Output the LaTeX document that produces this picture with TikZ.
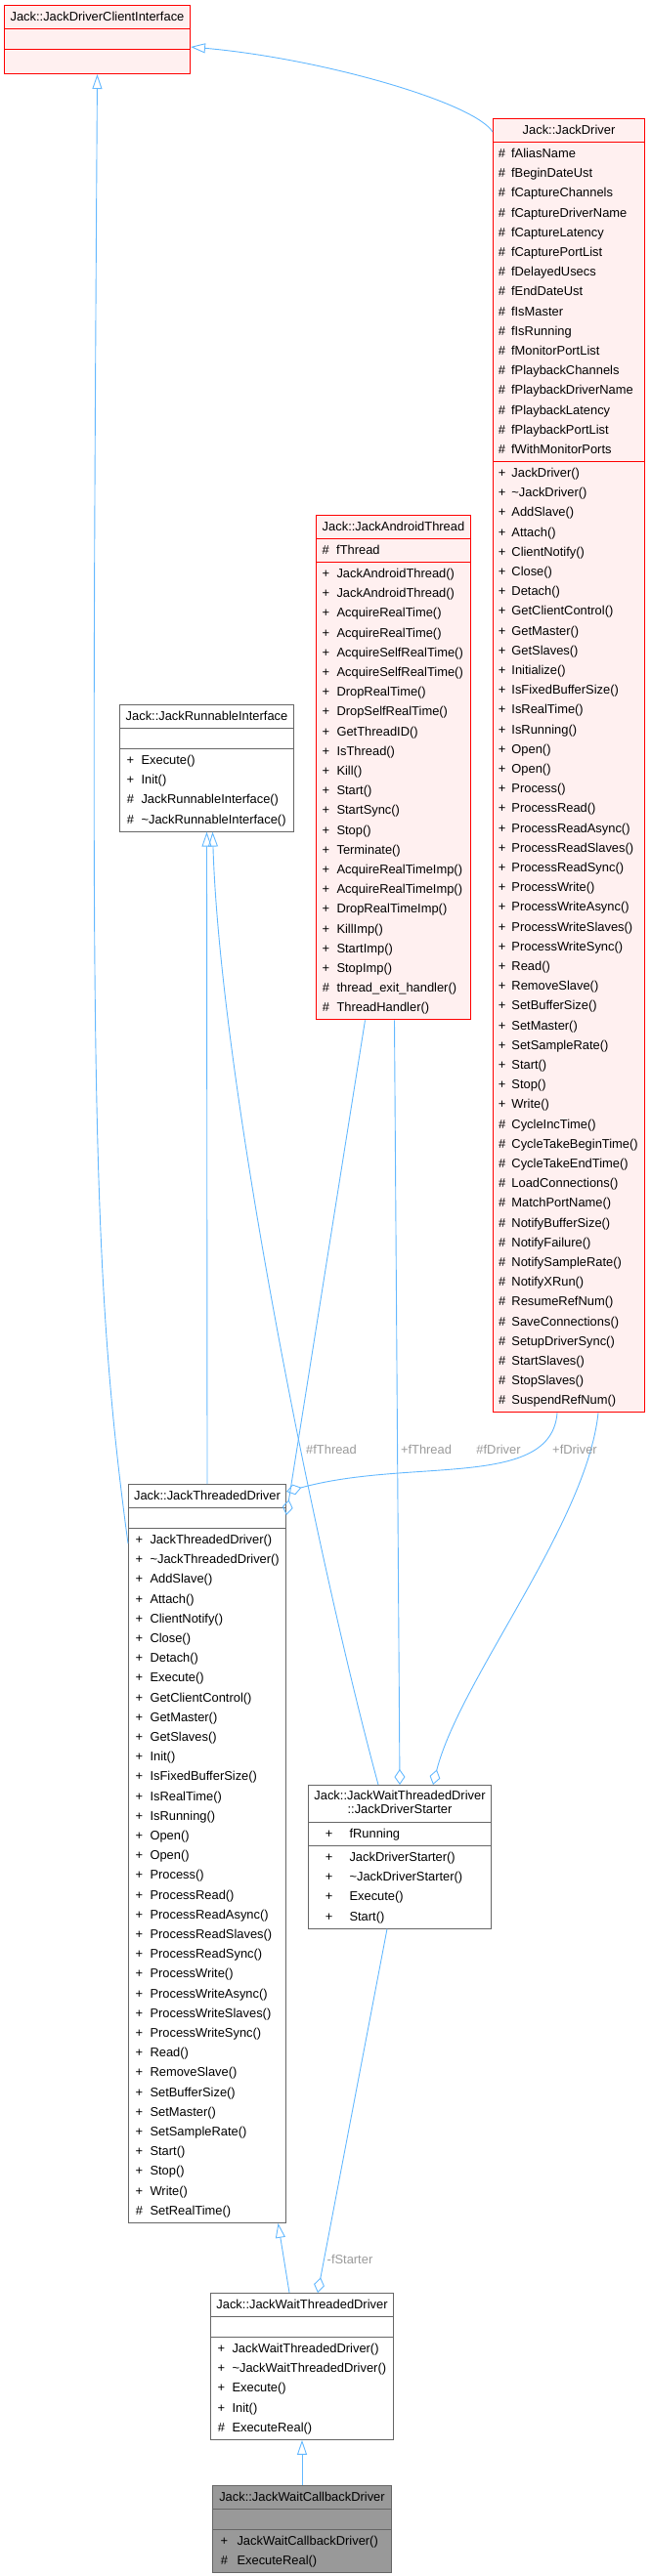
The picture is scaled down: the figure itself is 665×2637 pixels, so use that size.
\documentclass[tikz,border=0pt]{standalone}
\usepackage{fontspec}
\setmainfont{Liberation Sans}
\usetikzlibrary{shapes.multipart,arrows.meta}

\definecolor{edgeblue}{HTML}{63B8FF}
\definecolor{boxred}{HTML}{FF0000}
\definecolor{fillred}{HTML}{FFF0F0}
\definecolor{boxgray}{HTML}{666666}
\definecolor{fillgray}{HTML}{999999}
\definecolor{labelgray}{HTML}{9A9A9A}

\newcommand{\rowfont}{\fontsize{12.9}{20.2}\selectfont}

\begin{document}
\begin{tikzpicture}[x=1pt, y=-1pt,
    cls/.style={rectangle split, rectangle split parts=3,
        rectangle split part align={center,left,left},
        rectangle split empty part height=17.2pt,
        draw=boxgray, fill=white, line width=1pt,
        inner xsep=5.5pt, inner ysep=1.4pt, anchor=north west, font=\rowfont},
    hot/.style={cls, draw=boxred, fill=fillred},
    leaf/.style={cls, fill=fillgray},
    inherit/.style={edgeblue, line width=0.9pt, -{Triangle[open, length=15pt, width=10pt]}},
    member/.style={edgeblue, line width=0.9pt, -{Diamond[open, length=16pt, width=11pt]}},
    elabel/.style={font=\rowfont, text=labelgray, inner sep=0pt}
]
    \useasboundingbox (0,0) rectangle (665,2637);

    % classes
    \node[hot, minimum width=190pt] (jdci) at (4,5)
        {\strut Jack::JackDriverClientInterface \nodepart{two} \nodepart{three}\rule{0pt}{21.2pt}};

    \node[hot, minimum width=155pt, inner xsep=5.4pt] (jd) at (504,121)
        {\strut Jack::JackDriver
        \nodepart{two}\begin{tabular}{@{}c@{\hspace{6pt}}l@{}}
        \# & fAliasName\\ \# & fBeginDateUst\\ \# & fCaptureChannels\\
        \# & fCaptureDriverName\\ \# & fCaptureLatency\\ \# & fCapturePortList\\
        \# & fDelayedUsecs\\ \# & fEndDateUst\\ \# & fIsMaster\\ \# & fIsRunning\\
        \# & fMonitorPortList\\ \# & fPlaybackChannels\\ \# & fPlaybackDriverName\\
        \# & fPlaybackLatency\\ \# & fPlaybackPortList\\ \# & fWithMonitorPorts
        \end{tabular}
        \nodepart{three}\begin{tabular}{@{}c@{\hspace{6pt}}l@{}}
        + & JackDriver()\\ + & \textasciitilde JackDriver()\\ + & AddSlave()\\
        + & Attach()\\ + & ClientNotify()\\ + & Close()\\ + & Detach()\\
        + & GetClientControl()\\ + & GetMaster()\\ + & GetSlaves()\\
        + & Initialize()\\ + & IsFixedBufferSize()\\ + & IsRealTime()\\
        + & IsRunning()\\ + & Open()\\ + & Open()\\ + & Process()\\
        + & ProcessRead()\\ + & ProcessReadAsync()\\ + & ProcessReadSlaves()\\
        + & ProcessReadSync()\\ + & ProcessWrite()\\ + & ProcessWriteAsync()\\
        + & ProcessWriteSlaves()\\ + & ProcessWriteSync()\\ + & Read()\\
        + & RemoveSlave()\\ + & SetBufferSize()\\ + & SetMaster()\\
        + & SetSampleRate()\\ + & Start()\\ + & Stop()\\ + & Write()\\
        \# & CycleIncTime()\\ \# & CycleTakeBeginTime()\\ \# & CycleTakeEndTime()\\
        \# & LoadConnections()\\ \# & MatchPortName()\\ \# & NotifyBufferSize()\\
        \# & NotifyFailure()\\ \# & NotifySampleRate()\\ \# & NotifyXRun()\\
        \# & ResumeRefNum()\\ \# & SaveConnections()\\ \# & SetupDriverSync()\\
        \# & StartSlaves()\\ \# & StopSlaves()\\ \# & SuspendRefNum()
        \end{tabular}};

    \node[hot, minimum width=158pt] (jat) at (323,527)
        {\strut Jack::JackAndroidThread
        \nodepart{two}\begin{tabular}{@{\hspace{0.7pt}}c@{\hspace{7.3pt}}l@{}}
        \# & fThread
        \end{tabular}
        \nodepart{three}\begin{tabular}{@{\hspace{0.7pt}}c@{\hspace{7.3pt}}l@{}}
        + & JackAndroidThread()\\ + & JackAndroidThread()\\ + & AcquireRealTime()\\
        + & AcquireRealTime()\\ + & AcquireSelfRealTime()\\ + & AcquireSelfRealTime()\\
        + & DropRealTime()\\ + & DropSelfRealTime()\\ + & GetThreadID()\\
        + & IsThread()\\ + & Kill()\\ + & Start()\\ + & StartSync()\\ + & Stop()\\
        + & Terminate()\\ + & AcquireRealTimeImp()\\ + & AcquireRealTimeImp()\\
        + & DropRealTimeImp()\\ + & KillImp()\\ + & StartImp()\\ + & StopImp()\\
        \# & thread\_exit\_handler()\\ \# & ThreadHandler()
        \end{tabular}};

    \node[cls, minimum width=178pt] (jri) at (122,721)
        {\strut Jack::JackRunnableInterface
        \nodepart{two}
        \nodepart{three}\begin{tabular}{@{\hspace{1.7pt}}c@{\hspace{7.3pt}}l@{}}
        + & Execute()\\ + & Init()\\ \# & JackRunnableInterface()\\
        \# & \textasciitilde JackRunnableInterface()
        \end{tabular}};

    \node[cls, minimum width=161pt] (jtd) at (131,1519)
        {\strut Jack::JackThreadedDriver
        \nodepart{two}
        \nodepart{three}\begin{tabular}{@{\hspace{1.7pt}}c@{\hspace{7.3pt}}l@{}}
        + & JackThreadedDriver()\\ + & \textasciitilde JackThreadedDriver()\\
        + & AddSlave()\\ + & Attach()\\ + & ClientNotify()\\ + & Close()\\
        + & Detach()\\ + & Execute()\\ + & GetClientControl()\\ + & GetMaster()\\
        + & GetSlaves()\\ + & Init()\\ + & IsFixedBufferSize()\\ + & IsRealTime()\\
        + & IsRunning()\\ + & Open()\\ + & Open()\\ + & Process()\\
        + & ProcessRead()\\ + & ProcessReadAsync()\\ + & ProcessReadSlaves()\\
        + & ProcessReadSync()\\ + & ProcessWrite()\\ + & ProcessWriteAsync()\\
        + & ProcessWriteSlaves()\\ + & ProcessWriteSync()\\ + & Read()\\
        + & RemoveSlave()\\ + & SetBufferSize()\\ + & SetMaster()\\
        + & SetSampleRate()\\ + & Start()\\ + & Stop()\\ + & Write()\\
        \# & SetRealTime()
        \end{tabular}};

    \node[cls, minimum width=187pt] (jds) at (315,1827)
        {\fontsize{12.9}{14.3}\selectfont
        \begin{tabular}{@{}c@{}}
        \rule{0pt}{12.8pt}Jack::JackWaitThreadedDriver\\
        \rule[-7.1pt]{0pt}{8pt}::JackDriverStarter
        \end{tabular}
        \nodepart{two}\begin{tabular}{@{\hspace{11.8pt}}c@{\hspace{17.2pt}}l@{}}
        + & fRunning
        \end{tabular}
        \nodepart{three}\begin{tabular}{@{\hspace{11.8pt}}c@{\hspace{17.2pt}}l@{}}
        + & JackDriverStarter()\\ + & \textasciitilde JackDriverStarter()\\
        + & Execute()\\ + & Start()
        \end{tabular}};

    \node[cls, minimum width=187pt] (jwtd) at (215,2347)
        {\strut Jack::JackWaitThreadedDriver
        \nodepart{two}
        \nodepart{three}\begin{tabular}{@{\hspace{1.7pt}}c@{\hspace{7.3pt}}l@{}}
        + & JackWaitThreadedDriver()\\ + & \textasciitilde JackWaitThreadedDriver()\\
        + & Execute()\\ + & Init()\\ \# & ExecuteReal()
        \end{tabular}};

    \node[leaf, minimum width=183pt] (jwcd) at (217,2544)
        {\strut Jack::JackWaitCallbackDriver
        \nodepart{two}
        \nodepart{three}\begin{tabular}{@{\hspace{2.7pt}}c@{\hspace{9.3pt}}l@{}}
        + & JackWaitCallbackDriver()\\ \# & ExecuteReal()
        \end{tabular}};

    % inheritance
    \draw[inherit] ([yshift=-14pt]jd.north west) .. controls (485,105) and (330,60) .. ([yshift=-43pt]jdci.north east);
    \draw[inherit] ([yshift=-61pt]jtd.north west) .. controls (93,1300) and (93,1100) .. (jdci.south);
    \draw[inherit] (jtd.north) -- (jri.south);
    \draw[inherit] ([xshift=-22pt]jds.north) .. controls (320,1580) and (225,1100) .. ([xshift=6pt]jri.south);
    \draw[inherit] ([xshift=-13pt]jwtd.north) -- ([xshift=72.5pt]jtd.south);
    \draw[inherit] (jwcd.north) -- (jwtd.south);

    % members
    \draw[member] ([xshift=-29pt]jat.south) -- ([yshift=-32pt]jtd.north east);
    \draw[member] ([xshift=1pt]jat.south) -- (jds.north);
    \draw[member] ([xshift=-12pt]jd.south) .. controls (564,1525) and (420,1492) .. ([yshift=-8pt]jtd.north east);
    \draw[member] ([xshift=30pt]jd.south) .. controls (600,1560) and (470,1720) .. ([xshift=34pt]jds.north);
    \draw[member] ([xshift=-13pt]jds.south) -- ([xshift=16pt]jwtd.north);

    \node[elabel] (lthreadjtd) at (339,1484) {\#fThread};
    \node[elabel] (lthreadjds) at (436,1484) {+fThread};
    \node[elabel] (ldriverjtd) at (510,1484) {\#fDriver};
    \node[elabel] (ldriverjds) at (588,1484) {+fDriver};
    \node[elabel] (lstarter) at (358,2313) {-fStarter};
\end{tikzpicture}
\end{document}
